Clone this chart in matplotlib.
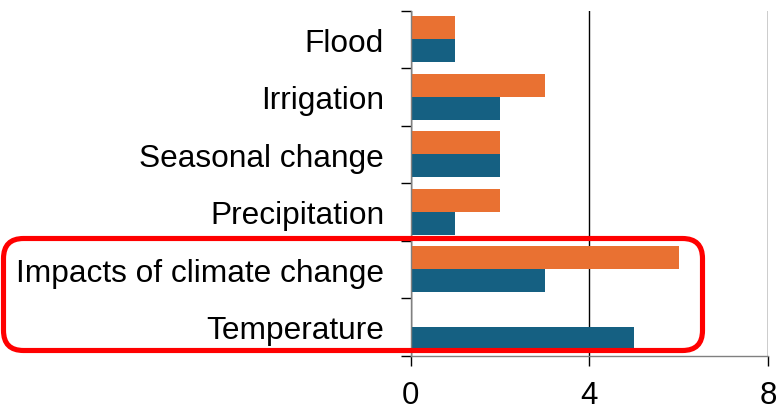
import matplotlib
matplotlib.use("Agg")
import matplotlib.pyplot as plt
import numpy as np
from matplotlib.patches import FancyBboxPatch
from matplotlib.transforms import Affine2D

plt.rcParams['font.family'] = ['Liberation Sans', 'DejaVu Sans']

categories = ["Flood", "Irrigation", "Seasonal change", "Precipitation",
              "Impacts of climate change", "Temperature"]
orange_vals = [1, 3, 2, 2, 6, 0]
blue_vals = [1, 2, 2, 1, 3, 5]
x_ticks = [0, 4, 8]

W, H = 778, 410
fig = plt.figure(figsize=(W / 100, H / 100), dpi=100)
ax = fig.add_axes([410.5 / W, 1 - 356.7 / H, (768 - 410.5) / W, (356.7 - 11.7) / H])

y = np.arange(len(categories))
h = 0.4
ax.barh(y - h / 2, orange_vals, height=h, color="#E97132", zorder=3)
ax.barh(y + h / 2, blue_vals, height=h, color="#156082", zorder=3)

ax.set_ylim(len(categories) - 0.5, -0.5)
ax.set_xlim(0, 8)
ax.set_xticks(x_ticks)
ax.set_xticklabels([str(t) for t in x_ticks], fontsize=22.5)
ax.set_yticks(y)
ax.set_yticklabels(categories, fontsize=22.8)
ax.set_yticks(np.arange(len(categories) + 1) - 0.5, minor=True)
ax.tick_params(axis="y", which="major", length=0, pad=19)
ax.tick_params(axis="y", which="minor", length=7.2, width=1, color="#000000", direction="out")
ax.tick_params(axis="x", length=7.2, width=1, color="#000000", direction="out", pad=10)

ax.grid(axis="x", color="black", linewidth=1, zorder=0)
for s in ["top", "right"]:
    ax.spines[s].set_visible(False)
for s in ["left", "bottom"]:
    ax.spines[s].set_color("#808080")
    ax.spines[s].set_linewidth(1)
    ax.spines[s].set_zorder(4)

# red highlight box (pixel coords, origin top-left)
pix = Affine2D().scale(1 / W, -1 / H).translate(0, 1) + fig.transFigure
box = FancyBboxPatch((3.5, 239.5), 699, 112, boxstyle="round,pad=0,rounding_size=20",
                     transform=pix, fill=False, edgecolor="#FF0000", linewidth=3.7,
                     clip_on=False, zorder=10)
fig.patches.append(box)

fig.savefig("out.png", dpi=100)
